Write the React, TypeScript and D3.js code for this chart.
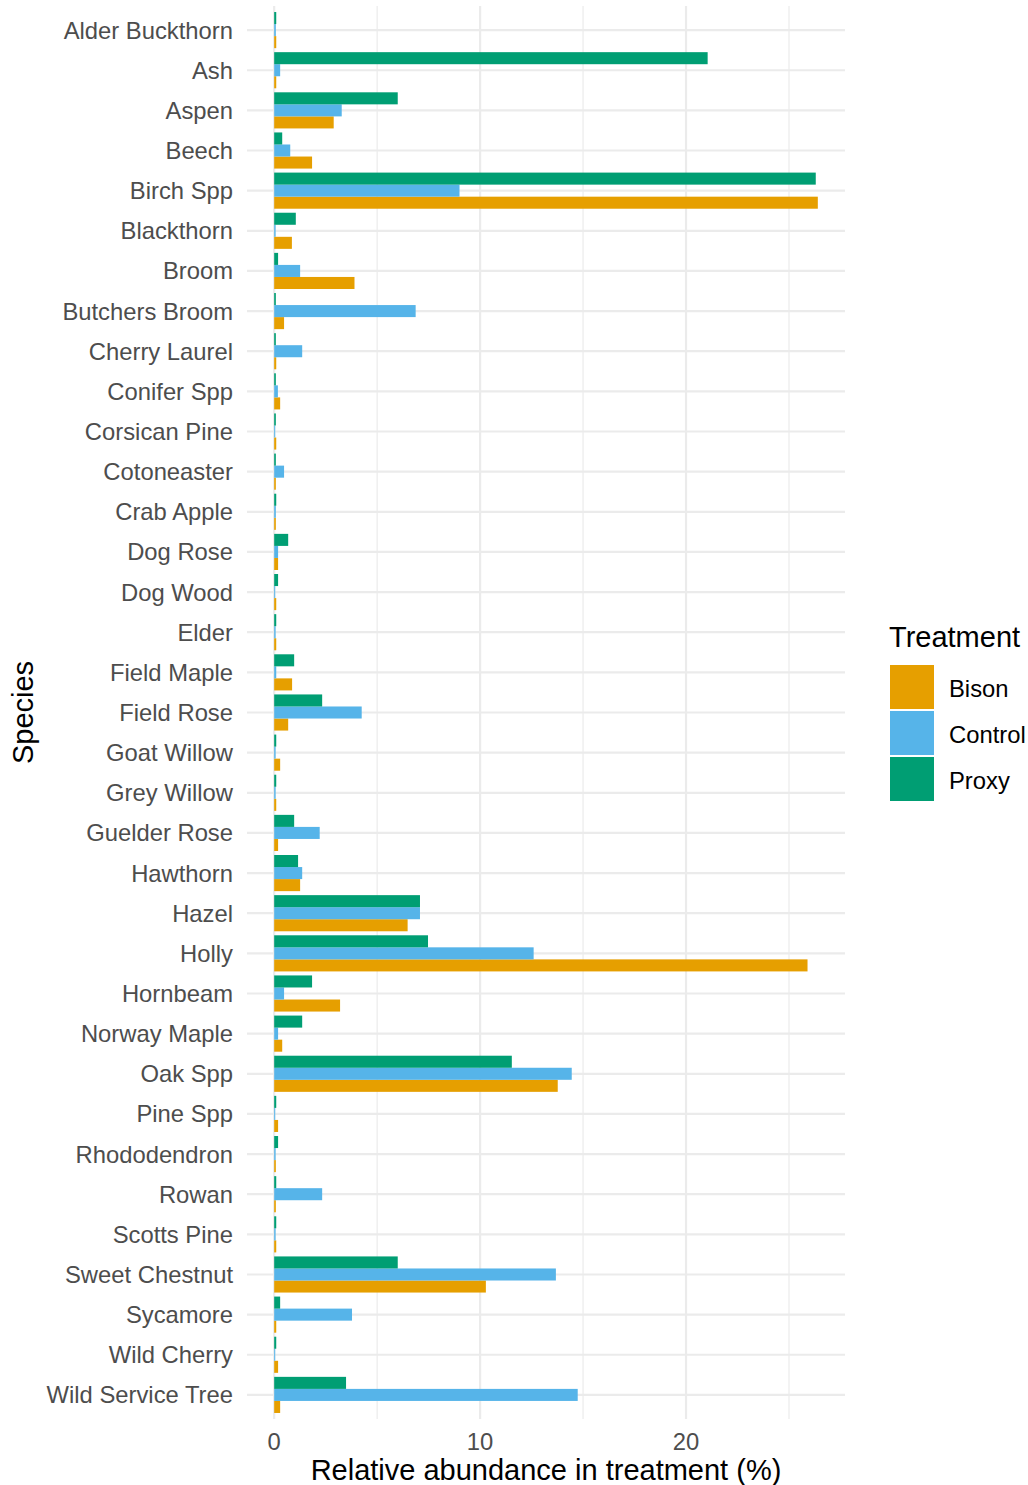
import React from "react";
import * as d3 from "d3";

const species = [
  "Alder Buckthorn", "Ash", "Aspen", "Beech", "Birch Spp", "Blackthorn", "Broom",
  "Butchers Broom", "Cherry Laurel", "Conifer Spp", "Corsican Pine", "Cotoneaster",
  "Crab Apple", "Dog Rose", "Dog Wood", "Elder", "Field Maple", "Field Rose",
  "Goat Willow", "Grey Willow", "Guelder Rose", "Hawthorn", "Hazel", "Holly",
  "Hornbeam", "Norway Maple", "Oak Spp", "Pine Spp", "Rhododendron", "Rowan",
  "Scotts Pine", "Sweet Chestnut", "Sycamore", "Wild Cherry", "Wild Service Tree",
];

const bison = [
  0.1, 0.1, 2.89, 1.84, 26.4, 0.86, 3.9,
  0.48, 0.1, 0.29, 0.1, 0.08,
  0.08, 0.19, 0.1, 0.1, 0.87, 0.68,
  0.29, 0.1, 0.19, 1.26, 6.48, 25.9,
  3.2, 0.39, 13.77, 0.19, 0.08, 0.08,
  0.1, 10.28, 0.1, 0.19, 0.29,
];
const control = [
  0.08, 0.29, 3.28, 0.78, 9.0, 0.07, 1.26,
  6.87, 1.36, 0.18, 0.05, 0.48,
  0.08, 0.19, 0.05, 0.07, 0.1, 4.25,
  0.07, 0.07, 2.21, 1.36, 7.08, 12.6,
  0.48, 0.19, 14.45, 0.05, 0.07, 2.33,
  0.07, 13.68, 3.78, 0.05, 14.74,
];
const proxy = [
  0.1, 21.05, 6.0, 0.39, 26.3, 1.05, 0.19,
  0.08, 0.08, 0.08, 0.08, 0.08,
  0.1, 0.68, 0.19, 0.1, 0.97, 2.33,
  0.1, 0.1, 0.97, 1.16, 7.08, 7.47,
  1.84, 1.36, 11.54, 0.1, 0.19, 0.1,
  0.1, 6.0, 0.29, 0.1, 3.49,
];

const treatments = ["Bison", "Control", "Proxy"];
const colors: Record<string, string> = { Bison: "#E69F00", Control: "#56B4E9", Proxy: "#009E73" };
const xTicks = [0, 10, 20];
const xMinor = [5, 15, 25];

const W = 1028;
const H = 1485;
const panelLeft = 247;
const panelRight = 845;
const panelTop = 6;
const panelBottom = 1419;

export default function App() {
  const allVals = [...bison, ...control, ...proxy];
  const maxV = d3.max(allVals) as number;
  const x = d3
    .scaleLinear()
    .domain([-maxV * 0.05, maxV * 1.05])
    .range([panelLeft, panelRight]);
  const y = d3.scalePoint<string>().domain(species).range([panelTop, panelBottom]).padding(0.6);
  const step = y.step();
  const sub = d3
    .scaleBand<string>()
    .domain(["Proxy", "Control", "Bison"])
    .range([-0.45 * step, 0.45 * step]);

  const seriesMap: Record<string, number[]> = { Bison: bison, Control: control, Proxy: proxy };
  const font = "'Liberation Sans', Arial, Helvetica, sans-serif";
  const labelSize = 23.8;
  const titleSize = 29;

  return (
    <div style={{ position: "absolute", left: 0, top: 0 }}>
      <svg width={W} height={H} style={{ display: "block", background: "#fff" }} fontFamily={font}>
        {/* grid */}
        {xMinor.map((t) => (
          <line key={"mi" + t} x1={x(t)} x2={x(t)} y1={panelTop} y2={panelBottom} stroke="#ebebeb" strokeWidth={1.2} />
        ))}
        {species.map((s) => (
          <line key={"hg" + s} x1={panelLeft} x2={panelRight} y1={y(s)} y2={y(s)} stroke="#ebebeb" strokeWidth={2.2} />
        ))}
        {xTicks.map((t) => (
          <line key={"ma" + t} x1={x(t)} x2={x(t)} y1={panelTop} y2={panelBottom} stroke="#ebebeb" strokeWidth={2.2} />
        ))}
        {/* bars */}
        {treatments.map((tr) =>
          species.map((s, i) => {
            const v = seriesMap[tr][i];
            const yc = (y(s) as number) + (sub(tr) as number);
            return (
              <rect
                key={tr + s}
                x={x(0)}
                y={yc}
                width={x(v) - x(0)}
                height={sub.bandwidth()}
                fill={colors[tr]}
              />
            );
          })
        )}
        {/* y labels */}
        {species.map((s) => (
          <text key={"yl" + s} x={233} y={y(s)} textAnchor="end" dominantBaseline="central" fontSize={labelSize} fill="#4d4d4d">
            {s}
          </text>
        ))}
        {/* x tick labels */}
        {xTicks.map((t) => (
          <text key={"xl" + t} x={x(t)} y={1441} textAnchor="middle" dominantBaseline="central" fontSize={labelSize} fill="#4d4d4d">
            {t}
          </text>
        ))}
        {/* axis titles */}
        <text x={(panelLeft + panelRight) / 2} y={1470} textAnchor="middle" dominantBaseline="central" fontSize={titleSize} fill="#000">
          Relative abundance in treatment (%)
        </text>
        <text
          transform={`translate(23,${(panelTop + panelBottom) / 2}) rotate(-90)`}
          textAnchor="middle"
          dominantBaseline="central"
          fontSize={titleSize}
          fill="#000"
        >
          Species
        </text>
        {/* legend */}
        <text x={889} y={637} dominantBaseline="central" fontSize={titleSize} fill="#000">
          Treatment
        </text>
        {treatments.map((tr, i) => (
          <g key={"lg" + tr}>
            <rect x={890} y={665 + i * 46} width={44} height={44} fill={colors[tr]} />
            <text x={949} y={688 + i * 46} dominantBaseline="central" fontSize={labelSize} fill="#000">
              {tr}
            </text>
          </g>
        ))}
      </svg>
    </div>
  );
}
